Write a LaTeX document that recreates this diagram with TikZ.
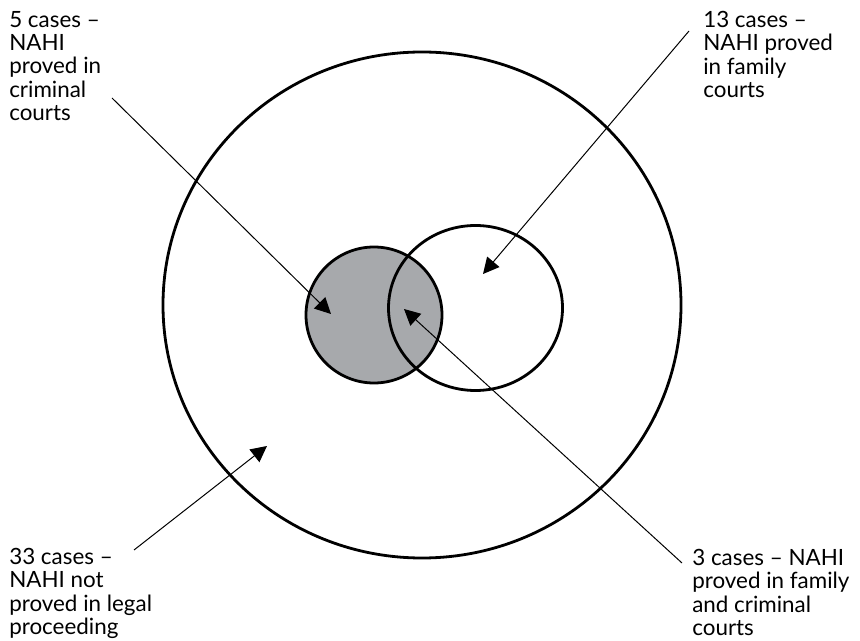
\documentclass[tikz,border=0pt]{standalone}
\usepackage{fontspec}
\setmainfont{Lato}
\usepackage{xcolor}
\usepackage{tikz}
\usetikzlibrary{arrows.meta}
\definecolor{crimgray}{HTML}{A7A9AC}
\tikzset{
  ring/.style={line width=2.1pt},
  lbl/.style={anchor=north west,align=left,inner sep=0pt,font=\fontsize{16.8}{17.5}\selectfont},
  pointer/.style={-{Triangle[length=12pt,width=12pt]},line width=0.75pt},
}
\begin{document}
\begin{tikzpicture}[x=0.75pt,y=0.75pt]
  \useasboundingbox (0,0) rectangle (860,-641);
  % sets
  \draw[ring] (422,-305) ellipse (259 and 253);
  \draw[ring,fill=crimgray] (374,-315) circle (68);
  \draw[ring] (475.5,-308) ellipse (87 and 82.5);
  % labels
  \node[lbl] (crimLbl) at (9,-11) {5 cases --\\NAHI\\proved in\\criminal\\courts};
  \node[lbl] (famLbl) at (703,-11) {13 cases --\\NAHI proved\\in family\\courts};
  \node[lbl] (noneLbl) at (9,-548) {33 cases --\\NAHI not\\proved in legal\\proceeding};
  \node[lbl] (bothLbl) at (692,-549) {3 cases -- NAHI\\proved in family\\and criminal\\courts};
  % arrow ends
  \coordinate (crimS) at (112,-98);
  \coordinate (crimT) at (331,-314);
  \coordinate (famS) at (689,-31);
  \coordinate (famT) at (483,-274);
  \coordinate (noneS) at (134,-550);
  \coordinate (noneT) at (267,-446);
  \coordinate (bothS) at (682,-563);
  \coordinate (bothT) at (404,-309);
  \draw[pointer] (crimS) -- (crimT);
  \draw[pointer] (famS) -- (famT);
  \draw[pointer] (noneS) -- (noneT);
  \draw[pointer] (bothS) -- (bothT);
\end{tikzpicture}
\end{document}
